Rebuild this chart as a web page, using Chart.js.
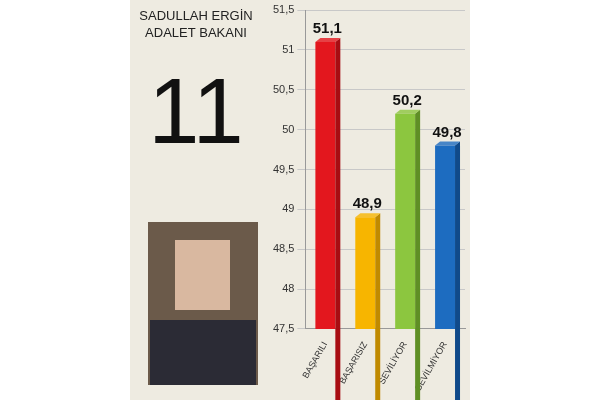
<!DOCTYPE html><html><head><meta charset="utf-8">
<script src="https://cdn.jsdelivr.net/npm/chart.js@4"></script>
<style>html,body{margin:0;background:#fff}</style></head><body><canvas id="c" width="600" height="400"></canvas>
<script>
const categories=["BAŞARILI","BAŞARISIZ","SEVİLİYOR","SEVİLMİYOR"];
const values=[51.1,48.9,50.2,49.8];
const valueLabels=["51,1","48,9","50,2","49,8"];
const colors=["#e3171e","#f7b500","#8cc63f","#1d6cc0"];
const side=["#a80d12","#c08a00","#5f8f25","#104a8a"];
const bg={id:'bg',beforeDraw(ch){const c=ch.ctx;c.save();c.fillStyle='#fff';c.fillRect(0,0,600,400);c.fillStyle='#eeebe1';c.fillRect(130,0,340,400);
c.fillStyle='#222';c.font='13px "Liberation Sans",Arial';c.textAlign='center';c.fillText('SADULLAH ERGİN',196,20);c.fillText('ADALET BAKANI',196,37);
c.font='92px "Liberation Sans",Arial';c.fillStyle='#111';c.fillText('11',196,143);
c.fillStyle='#6b5a4a';c.fillRect(148,222,110,163);c.fillStyle='#d9b8a0';c.fillRect(175,240,55,70);c.fillStyle='#2b2b35';c.fillRect(150,320,106,65);
c.restore();},
afterDatasetsDraw(ch){const c=ch.ctx,m=ch.getDatasetMeta(0);c.save();
m.data.forEach((b,i)=>{const w=b.width,x=b.x-w/2;c.fillStyle=side[i];c.beginPath();c.moveTo(x+w,b.y);c.lineTo(x+w+5,b.y-4);c.lineTo(x+w+5,b.base-4);c.lineTo(x+w,b.base);c.fill();
c.fillStyle=colors[i];c.globalAlpha=0.8;c.beginPath();c.moveTo(x,b.y);c.lineTo(x+5,b.y-4);c.lineTo(x+w+5,b.y-4);c.lineTo(x+w,b.y);c.fill();c.globalAlpha=1;
c.fillStyle='#111';c.font='bold 15px "Liberation Sans",Arial';c.textAlign='center';c.fillText(valueLabels[i],b.x+2,b.y-9);});
c.restore();}};
new Chart(document.getElementById('c'),{type:'bar',data:{labels:categories,datasets:[{data:values,backgroundColor:colors,barPercentage:0.5,categoryPercentage:1}]},
options:{responsive:false,animation:false,devicePixelRatio:1,layout:{padding:{left:270,right:135,top:10,bottom:4}},
plugins:{legend:{display:false},tooltip:{enabled:false}},
scales:{y:{min:47.5,max:51.5,ticks:{stepSize:0.5,color:'#333',font:{size:11,family:'Liberation Sans'},callback:v=>String(v).replace('.',',')},grid:{color:'#c8c8c8'},border:{color:'#999'}},
x:{grid:{display:false},border:{color:'#999'},ticks:{maxRotation:60,minRotation:60,color:'#333',font:{size:9,family:'Liberation Sans'}}}}},plugins:[bg]});
</script></body></html>
